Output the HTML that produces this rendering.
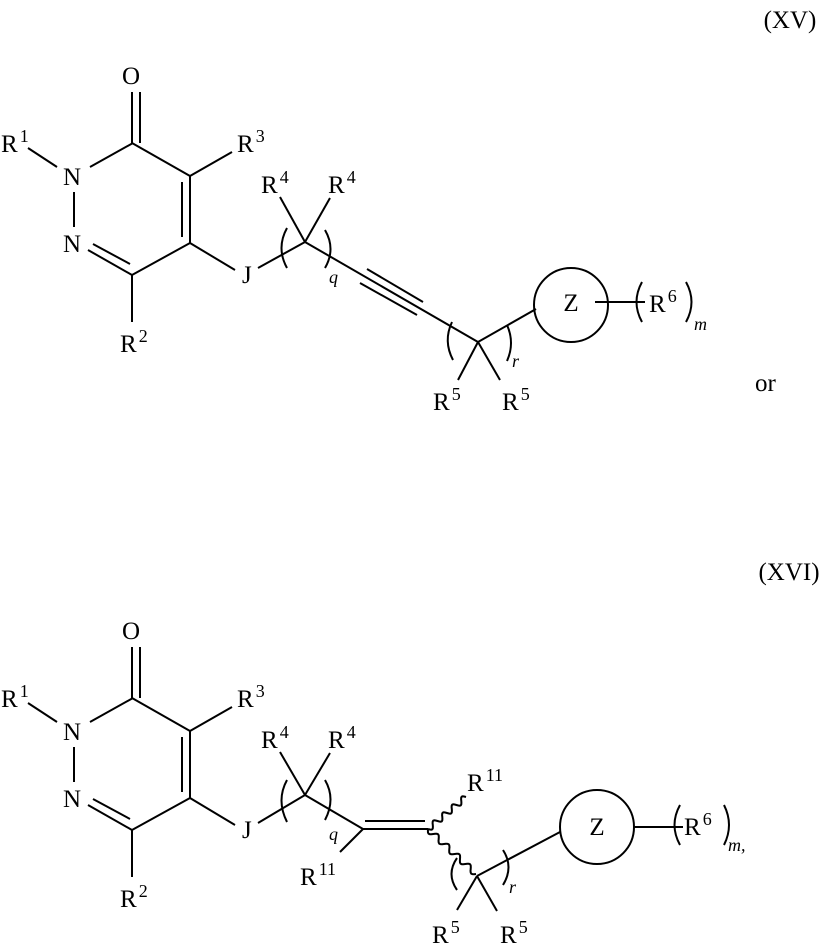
<!DOCTYPE html>
<html><head><meta charset="utf-8"><style>
html,body{margin:0;padding:0;background:#fff}
svg{display:block}
text{font-family:"Liberation Serif",serif;font-size:25px;fill:#000}
.s{font-size:18px}
.i{font-style:italic}
</style></head><body>
<svg id="sv" width="825" height="944" viewBox="0 0 825 944" xmlns="http://www.w3.org/2000/svg">
<g id="top" stroke="#000" stroke-width="2" fill="none">
<line x1="132" y1="143" x2="132" y2="92"/>
<line x1="140" y1="143" x2="140" y2="92"/>
<line x1="133" y1="143" x2="90" y2="167"/>
<line x1="28" y1="148" x2="57" y2="167"/>
<line x1="74" y1="192" x2="74" y2="227"/>
<line x1="88" y1="250" x2="132" y2="275"/>
<line x1="93" y1="244" x2="130" y2="264"/>
<line x1="132" y1="275" x2="132" y2="322"/>
<line x1="132" y1="275" x2="190" y2="243"/>
<line x1="190" y1="243" x2="190" y2="176"/>
<line x1="182" y1="182" x2="182" y2="237"/>
<line x1="190" y1="176" x2="132" y2="143"/>
<line x1="190" y1="176" x2="232" y2="152"/>
<line x1="190" y1="243" x2="235" y2="270"/>
<line x1="258" y1="268" x2="305" y2="242"/>
<line x1="305" y1="242" x2="280" y2="197"/>
<line x1="305" y1="242" x2="330" y2="198"/>
<path d="M287,228 Q276,248 287,268"/>
<path d="M325,230 Q336,249 325,268"/>
<line x1="305" y1="242" x2="478" y2="342"/>
<line x1="367" y1="269" x2="423" y2="302"/>
<line x1="360" y1="283" x2="417" y2="315"/>
<path d="M452,322 Q443,341 453,360"/>
<path d="M507,325 Q515,343 507,361"/>
<line x1="478" y1="342" x2="458" y2="380"/>
<line x1="478" y1="342" x2="500" y2="380"/>
<line x1="478" y1="342" x2="536" y2="309"/>
<circle cx="571" cy="305" r="37"/>
<line x1="595" y1="302" x2="645" y2="302"/>
<path d="M642,282 Q631,302 642,322"/>
<path d="M686,282 Q697,302 686,322"/>
</g>
<g fill="#000">
<text x="790" y="28" text-anchor="middle">(XV)</text>
<text x="131" y="84" text-anchor="middle">O</text>
<text x="1" y="152">R<tspan class="s" dx="2" dy="-10">1</tspan></text>
<text x="63" y="185">N</text>
<text x="63" y="252">N</text>
<text x="237" y="152">R<tspan class="s" dx="2" dy="-10">3</tspan></text>
<text x="120" y="352">R<tspan class="s" dx="2" dy="-10">2</tspan></text>
<text x="242" y="283">J</text>
<text x="261" y="193">R<tspan class="s" dx="2" dy="-10">4</tspan></text>
<text x="328" y="193">R<tspan class="s" dx="2" dy="-10">4</tspan></text>
<text x="329" y="283" class="s i">q</text>
<text x="512" y="367" class="s i">r</text>
<text x="433" y="410">R<tspan class="s" dx="2" dy="-10">5</tspan></text>
<text x="502" y="410">R<tspan class="s" dx="2" dy="-10">5</tspan></text>
<text x="571" y="311" text-anchor="middle">Z</text>
<text x="649" y="312">R<tspan class="s" dx="2" dy="-10">6</tspan></text>
<text x="694" y="330" class="s i">m</text>
<text x="755" y="391">or</text>
</g>

<g transform="translate(0,555)" stroke="#000" stroke-width="2" fill="none">
<line x1="132" y1="143" x2="132" y2="92"/>
<line x1="140" y1="143" x2="140" y2="92"/>
<line x1="133" y1="143" x2="90" y2="167"/>
<line x1="28" y1="148" x2="57" y2="167"/>
<line x1="74" y1="192" x2="74" y2="227"/>
<line x1="88" y1="250" x2="132" y2="275"/>
<line x1="93" y1="244" x2="130" y2="264"/>
<line x1="132" y1="275" x2="132" y2="322"/>
<line x1="132" y1="275" x2="190" y2="243"/>
<line x1="190" y1="243" x2="190" y2="176"/>
<line x1="182" y1="182" x2="182" y2="237"/>
<line x1="190" y1="176" x2="132" y2="143"/>
<line x1="190" y1="176" x2="232" y2="152"/>
<line x1="190" y1="243" x2="235" y2="270"/>
<line x1="258" y1="268" x2="305" y2="240"/>
<line x1="305" y1="240" x2="280" y2="197"/>
<line x1="305" y1="240" x2="330" y2="198"/>
<path d="M287,225 Q276,245 287,267"/>
<path d="M325,225 Q336,244 325,265"/>
</g>
<g stroke="#000" stroke-width="2" fill="none">
<line x1="305" y1="795" x2="363" y2="829"/>
<line x1="363" y1="829" x2="428" y2="829"/>
<line x1="365" y1="821" x2="425" y2="821"/>
<line x1="363" y1="829" x2="340" y2="852"/>
<path id="w1" d=""/>
<path id="w2" d=""/>
<path d="M457,858 Q446,874 457,890"/>
<path d="M503,850 Q514,867 503,885"/>
<line x1="477" y1="876" x2="457" y2="910"/>
<line x1="477" y1="876" x2="497" y2="911"/>
<line x1="477" y1="876" x2="560" y2="832"/>
<circle cx="597" cy="827" r="37"/>
<line x1="634" y1="827" x2="683" y2="827"/>
<path d="M680,805 Q669,825 680,845"/>
<path d="M724,805 Q734,825 724,845"/>
</g>
<g fill="#000">
<text x="789" y="580" text-anchor="middle">(XVI)</text>
<text x="131" y="639" text-anchor="middle">O</text>
<text x="1" y="707">R<tspan class="s" dx="2" dy="-10">1</tspan></text>
<text x="63" y="740">N</text>
<text x="63" y="807">N</text>
<text x="237" y="707">R<tspan class="s" dx="2" dy="-10">3</tspan></text>
<text x="120" y="907">R<tspan class="s" dx="2" dy="-10">2</tspan></text>
<text x="242" y="838">J</text>
<text x="261" y="748">R<tspan class="s" dx="2" dy="-10">4</tspan></text>
<text x="328" y="748">R<tspan class="s" dx="2" dy="-10">4</tspan></text>
<text x="329" y="840" class="s i">q</text>
<text x="300" y="885">R<tspan class="s" dx="2" dy="-10">11</tspan></text>
<text x="467" y="791">R<tspan class="s" dx="2" dy="-10">11</tspan></text>
<text x="509" y="893" class="s i">r</text>
<text x="432" y="943">R<tspan class="s" dx="2" dy="-10">5</tspan></text>
<text x="500" y="943">R<tspan class="s" dx="2" dy="-10">5</tspan></text>
<text x="597" y="835" text-anchor="middle">Z</text>
<text x="684" y="835">R<tspan class="s" dx="2" dy="-10">6</tspan></text>
<text x="728" y="851" class="s i">m,</text>
</g>
</svg>
<script>
function wave(id,x1,y1,x2,y2,n,a){
 var dx=x2-x1,dy=y2-y1,L=Math.hypot(dx,dy),px=-dy/L,py=dx/L,d="M"+x1+","+y1;
 var steps=n*12;
 for(var i=1;i<=steps;i++){var t=i/steps,o=a*Math.sin(t*n*2*Math.PI);
  d+=" L"+(x1+dx*t+px*o).toFixed(1)+","+(y1+dy*t+py*o).toFixed(1);}
 document.getElementById(id).setAttribute("d",d);
}
wave("w1",428,829,466,797,4,3);
wave("w2",428,829,476,874,4.5,3);
</script>
</body></html>
